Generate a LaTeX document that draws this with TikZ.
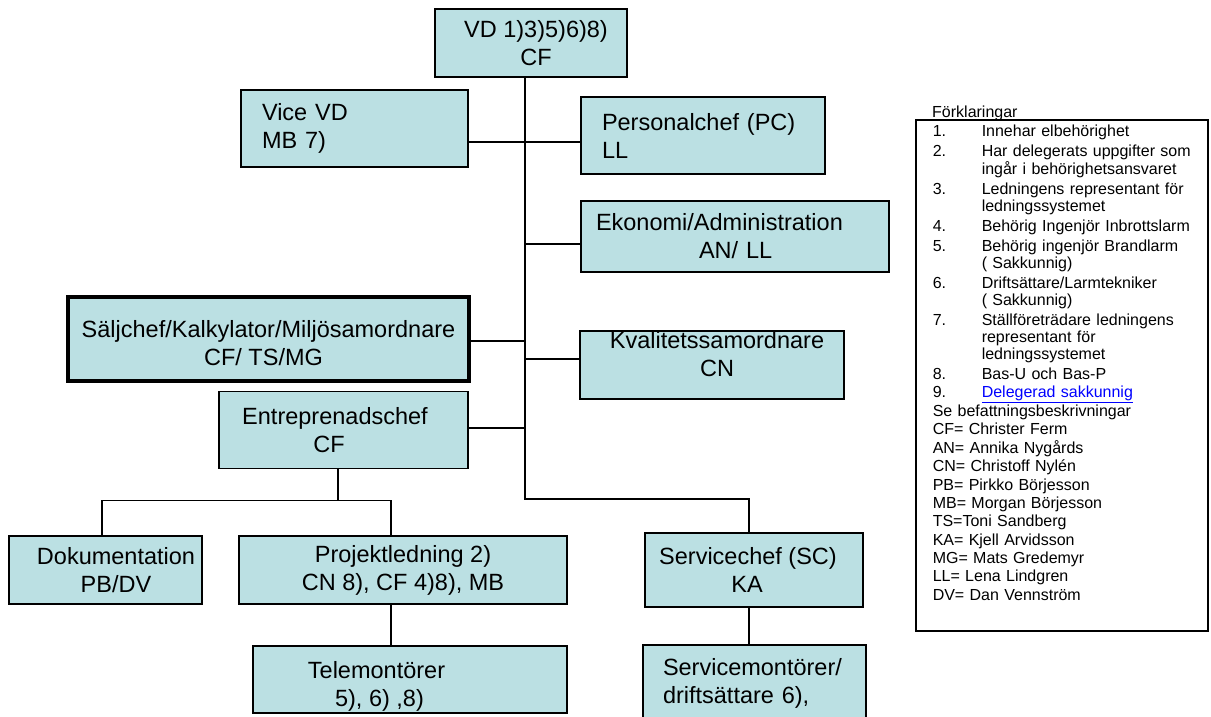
\documentclass[tikz,border=0pt]{standalone}
\usepackage{fontspec}
\setmainfont{Liberation Sans}
\usepackage{xcolor}
\usetikzlibrary{positioning}

\definecolor{unitfill}{HTML}{BBE0E3}
\definecolor{linkblue}{HTML}{0000FF}

\newcommand{\orgfont}{\fontsize{23.5}{28}\selectfont}
\newcommand{\legendfont}{\fontsize{16}{17}\selectfont}
\newcommand{\movetext}[2]{\raisebox{#1}[\height][\depth]{\begin{tabular}{@{}c@{}}#2\end{tabular}}}

\begin{document}
\begin{tikzpicture}[
    x=1pt, y=-1pt,
    unit/.style={rectangle, draw=black, line width=1.5pt, fill=unitfill, inner sep=0pt, font=\orgfont, align=center},
    leftunit/.style={unit, align=left, inner xsep=21pt},
    link/.style={draw=black, line width=1.5pt},
    legendbox/.style={rectangle, draw=black, line width=1.5pt, fill=white, anchor=north west, font=\legendfont, text width=258pt, inner xsep=17pt, inner ysep=4.8pt, align=left}
]
\useasboundingbox[fill=white] (0,0) rectangle (1211,716);

% Ledning
\node[unit, minimum width=192pt, minimum height=68pt] (vd) at (531,43) {\hspace*{10pt}VD 1)3)5)6)8)\\\hspace*{10pt}CF};
\node[leftunit, text width=185pt, minimum height=77pt] (vice) at (354.5,128.5) {Vice VD\\MB 7)};
\node[leftunit, text width=202pt, minimum height=77pt] (pers) at (703,135.5) {Personalchef (PC)\\LL};
\node[leftunit, inner xsep=15pt, text width=278pt, minimum height=71pt] (ekon) at (735,236.5) {Ekonomi/Administration\\\hspace*{103pt}AN/ LL};
\node[unit, line width=3.2pt, minimum width=401pt, minimum height=84pt] (salj) at (268.5,339) {\movetext{-6.5pt}{Säljchef/Kalkylator/Miljösamordnare\\\hspace*{-10pt}CF/ TS/MG}};
\node[unit, minimum width=264pt, minimum height=68pt] (kval) at (712,365) {\movetext{8pt}{\hspace*{10pt}Kvalitetssamordnare\\\hspace*{10pt}CN}};
\node[unit, minimum width=249pt, minimum height=77pt] (entre) at (343.5,430) {\hspace*{-17pt}Entreprenadschef\\\hspace*{-29pt}CF};

% Entreprenad och service
\node[unit, minimum width=193pt, minimum height=68pt] (dok) at (105.5,570) {\hspace*{21pt}Dokumentation\\\hspace*{21pt}PB/DV};
\node[unit, minimum width=328pt, minimum height=68pt] (proj) at (403,570) {Projektledning 2)\\CN 8), CF 4)8), MB};
\node[unit, minimum width=314pt, minimum height=67pt] (tele) at (410,679.5) {\movetext{-7pt}{\hspace*{-67pt}Telemontörer\\\hspace*{-61pt}5), 6) ,8)}};
\node[unit, minimum width=218pt, minimum height=74pt] (serv) at (754,570) {\hspace*{-12pt}Servicechef (SC)\\\hspace*{-14pt}KA};
\node[leftunit, inner xsep=20pt, text width=183pt, minimum height=76pt] (servm) at (754.5,683) {Servicemontörer/\\driftsättare 6),};

% Forbindelser
\coordinate (trunkend) at (525,499);
\draw[link] ([xshift=-6pt]vd.south) -- (trunkend) -| ([xshift=-5pt]serv.north);
\draw[link] ([yshift=-13.5pt]vice.east) -- ([yshift=-6.5pt]pers.west);
\draw[link] ([yshift=-7.5pt]ekon.west) -- +(-56,0);
\draw[link] ([yshift=-2pt]salj.east) -- +(55,0);
\draw[link] ([yshift=6pt]kval.west) -- +(-55,0);
\draw[link] ([yshift=2pt]entre.east) -- +(57,0);
\draw[link] ([xshift=-5.5pt]entre.south) -- ++(0,31) coordinate (split);
\draw[link] ([xshift=-3.5pt]dok.north) |- (split) -| ([xshift=-12pt]proj.north);
\draw[link] ([xshift=-12pt]proj.south) -- ([xshift=-19pt]tele.north);
\draw[link] ([xshift=-5pt]serv.south) -- ([xshift=-5.5pt]servm.north);

% Forklaringar
\node[legendbox] (legend) at (915,119) {\noindent\begin{tabular}{@{}p{49pt}@{}l@{}}
1. & Innehar elbehörighet\\[3pt]
2. & Har delegerats uppgifter som\\
   & ingår i behörighetsansvaret\\[3pt]
3. & Ledningens representant för\\
   & ledningssystemet\\[3pt]
4. & Behörig Ingenjör Inbrottslarm\\[3pt]
5. & Behörig ingenjör Brandlarm\\
   & ( Sakkunnig)\\[3pt]
6. & Driftsättare/Larmtekniker\\
   & ( Sakkunnig)\\[3pt]
7. & Ställföreträdare ledningens\\
   & representant för\\
   & ledningssystemet\\[3pt]
8. & Bas-U och Bas-P\\[1.3pt]
9. & \textcolor{linkblue}{\underline{Delegerad sakkunnig}}\\[1.3pt]
\multicolumn{2}{@{}l@{}}{Se befattningsbeskrivningar}\\[1.3pt]
\multicolumn{2}{@{}l@{}}{CF= Christer Ferm}\\[1.3pt]
\multicolumn{2}{@{}l@{}}{AN= Annika Nygårds}\\[1.3pt]
\multicolumn{2}{@{}l@{}}{CN= Christoff Nylén}\\[1.3pt]
\multicolumn{2}{@{}l@{}}{PB= Pirkko Börjesson}\\[1.3pt]
\multicolumn{2}{@{}l@{}}{MB= Morgan Börjesson}\\[1.3pt]
\multicolumn{2}{@{}l@{}}{TS=Toni Sandberg}\\[1.3pt]
\multicolumn{2}{@{}l@{}}{KA= Kjell Arvidsson}\\[1.3pt]
\multicolumn{2}{@{}l@{}}{MG= Mats Gredemyr}\\[1.3pt]
\multicolumn{2}{@{}l@{}}{LL= Lena Lindgren}\\[1.3pt]
\multicolumn{2}{@{}l@{}}{DV= Dan Vennström}\\[20.8pt]
\end{tabular}};
\node[anchor=base west, font=\legendfont, inner sep=0pt] (legendtitle) at ([xshift=17pt, yshift=2pt]legend.north west) {Förklaringar};

\end{tikzpicture}
\end{document}
